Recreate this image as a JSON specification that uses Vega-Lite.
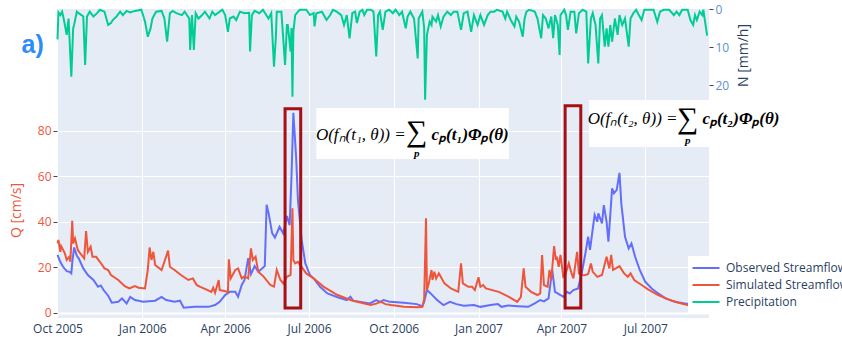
{
  "$schema": "https://vega.github.io/schema/vega-lite/v6.json",
  "width": 652,
  "height": 309,
  "autosize": {"type": "none"},
  "padding": {"left": 57, "top": 9, "right": 133, "bottom": 19},
  "background": "white",
  "config": {
    "view": {"fill": "#e5ecf6", "stroke": null},
    "font": "Open Sans",
    "axis": {"domain": false, "gridColor": "white", "gridWidth": 1, "labelFont": "Open Sans", "labelFontSize": 12, "titleFont": "Open Sans", "titleFontWeight": "normal"}
  },
  "datasets": {
    "flow": [
      {"date":"2005-10-01","series":"Observed Streamflow","Q":25.4},
      {"date":"2005-10-04","series":"Observed Streamflow","Q":22.4},
      {"date":"2005-10-07","series":"Observed Streamflow","Q":20.2},
      {"date":"2005-10-11","series":"Observed Streamflow","Q":18.3},
      {"date":"2005-10-14","series":"Observed Streamflow","Q":18.0},
      {"date":"2005-10-16","series":"Observed Streamflow","Q":17.3},
      {"date":"2005-10-17","series":"Observed Streamflow","Q":22},
      {"date":"2005-10-19","series":"Observed Streamflow","Q":28.7},
      {"date":"2005-10-22","series":"Observed Streamflow","Q":25},
      {"date":"2005-10-24","series":"Observed Streamflow","Q":23.9},
      {"date":"2005-10-29","series":"Observed Streamflow","Q":19.5},
      {"date":"2005-11-03","series":"Observed Streamflow","Q":16.6},
      {"date":"2005-11-09","series":"Observed Streamflow","Q":14.4},
      {"date":"2005-11-14","series":"Observed Streamflow","Q":11.4},
      {"date":"2005-11-17","series":"Observed Streamflow","Q":12},
      {"date":"2005-11-20","series":"Observed Streamflow","Q":10.0},
      {"date":"2005-11-25","series":"Observed Streamflow","Q":7.5},
      {"date":"2005-11-29","series":"Observed Streamflow","Q":4.4},
      {"date":"2005-12-06","series":"Observed Streamflow","Q":4.8},
      {"date":"2005-12-10","series":"Observed Streamflow","Q":6.3},
      {"date":"2005-12-15","series":"Observed Streamflow","Q":4.1},
      {"date":"2005-12-19","series":"Observed Streamflow","Q":7.0},
      {"date":"2005-12-24","series":"Observed Streamflow","Q":5.6},
      {"date":"2006-01-02","series":"Observed Streamflow","Q":4.8},
      {"date":"2006-01-15","series":"Observed Streamflow","Q":5.3},
      {"date":"2006-01-22","series":"Observed Streamflow","Q":7.0},
      {"date":"2006-01-27","series":"Observed Streamflow","Q":5.6},
      {"date":"2006-02-05","series":"Observed Streamflow","Q":4.8},
      {"date":"2006-02-11","series":"Observed Streamflow","Q":5.3},
      {"date":"2006-02-15","series":"Observed Streamflow","Q":2.2},
      {"date":"2006-02-27","series":"Observed Streamflow","Q":2.6},
      {"date":"2006-03-14","series":"Observed Streamflow","Q":2.6},
      {"date":"2006-03-21","series":"Observed Streamflow","Q":3.4},
      {"date":"2006-03-26","series":"Observed Streamflow","Q":4.8},
      {"date":"2006-04-01","series":"Observed Streamflow","Q":7.8},
      {"date":"2006-04-06","series":"Observed Streamflow","Q":9.2},
      {"date":"2006-04-12","series":"Observed Streamflow","Q":9.2},
      {"date":"2006-04-15","series":"Observed Streamflow","Q":7.0},
      {"date":"2006-04-19","series":"Observed Streamflow","Q":12.2},
      {"date":"2006-04-22","series":"Observed Streamflow","Q":14.4},
      {"date":"2006-04-26","series":"Observed Streamflow","Q":24},
      {"date":"2006-04-29","series":"Observed Streamflow","Q":17},
      {"date":"2006-05-03","series":"Observed Streamflow","Q":20.5},
      {"date":"2006-05-07","series":"Observed Streamflow","Q":18},
      {"date":"2006-05-11","series":"Observed Streamflow","Q":19.5},
      {"date":"2006-05-14","series":"Observed Streamflow","Q":20.5},
      {"date":"2006-05-16","series":"Observed Streamflow","Q":47.5},
      {"date":"2006-05-18","series":"Observed Streamflow","Q":44},
      {"date":"2006-05-22","series":"Observed Streamflow","Q":35},
      {"date":"2006-05-25","series":"Observed Streamflow","Q":33},
      {"date":"2006-05-30","series":"Observed Streamflow","Q":37.8},
      {"date":"2006-06-03","series":"Observed Streamflow","Q":34.9},
      {"date":"2006-06-07","series":"Observed Streamflow","Q":42.5},
      {"date":"2006-06-10","series":"Observed Streamflow","Q":38.5},
      {"date":"2006-06-12","series":"Observed Streamflow","Q":60},
      {"date":"2006-06-14","series":"Observed Streamflow","Q":87.9},
      {"date":"2006-06-17","series":"Observed Streamflow","Q":68.6},
      {"date":"2006-06-19","series":"Observed Streamflow","Q":49.5},
      {"date":"2006-06-23","series":"Observed Streamflow","Q":32},
      {"date":"2006-06-27","series":"Observed Streamflow","Q":21.7},
      {"date":"2006-07-02","series":"Observed Streamflow","Q":16.6},
      {"date":"2006-07-06","series":"Observed Streamflow","Q":15.1},
      {"date":"2006-07-13","series":"Observed Streamflow","Q":11.4},
      {"date":"2006-07-21","series":"Observed Streamflow","Q":8.5},
      {"date":"2006-08-01","series":"Observed Streamflow","Q":6.8},
      {"date":"2006-08-11","series":"Observed Streamflow","Q":5.6},
      {"date":"2006-08-15","series":"Observed Streamflow","Q":7.0},
      {"date":"2006-08-18","series":"Observed Streamflow","Q":5.3},
      {"date":"2006-09-05","series":"Observed Streamflow","Q":4.1},
      {"date":"2006-09-12","series":"Observed Streamflow","Q":5.6},
      {"date":"2006-09-16","series":"Observed Streamflow","Q":4.8},
      {"date":"2006-09-20","series":"Observed Streamflow","Q":5.6},
      {"date":"2006-09-27","series":"Observed Streamflow","Q":4.8},
      {"date":"2006-10-12","series":"Observed Streamflow","Q":4.4},
      {"date":"2006-10-26","series":"Observed Streamflow","Q":3.8},
      {"date":"2006-11-01","series":"Observed Streamflow","Q":2.9},
      {"date":"2006-11-03","series":"Observed Streamflow","Q":4.8},
      {"date":"2006-11-06","series":"Observed Streamflow","Q":10},
      {"date":"2006-11-10","series":"Observed Streamflow","Q":8.5},
      {"date":"2006-11-17","series":"Observed Streamflow","Q":5.6},
      {"date":"2006-11-24","series":"Observed Streamflow","Q":3.4},
      {"date":"2006-12-01","series":"Observed Streamflow","Q":4.8},
      {"date":"2006-12-08","series":"Observed Streamflow","Q":3.8},
      {"date":"2006-12-16","series":"Observed Streamflow","Q":3.1},
      {"date":"2006-12-27","series":"Observed Streamflow","Q":3.4},
      {"date":"2007-01-03","series":"Observed Streamflow","Q":2.6},
      {"date":"2007-01-14","series":"Observed Streamflow","Q":3.4},
      {"date":"2007-01-22","series":"Observed Streamflow","Q":3.8},
      {"date":"2007-01-26","series":"Observed Streamflow","Q":2.6},
      {"date":"2007-02-02","series":"Observed Streamflow","Q":3.2},
      {"date":"2007-02-13","series":"Observed Streamflow","Q":2.9},
      {"date":"2007-02-24","series":"Observed Streamflow","Q":2.6},
      {"date":"2007-03-03","series":"Observed Streamflow","Q":4.1},
      {"date":"2007-03-09","series":"Observed Streamflow","Q":5.6},
      {"date":"2007-03-13","series":"Observed Streamflow","Q":5.0},
      {"date":"2007-03-18","series":"Observed Streamflow","Q":6.3},
      {"date":"2007-03-22","series":"Observed Streamflow","Q":18.8},
      {"date":"2007-03-25","series":"Observed Streamflow","Q":9.2},
      {"date":"2007-03-31","series":"Observed Streamflow","Q":7.8},
      {"date":"2007-04-03","series":"Observed Streamflow","Q":7.0},
      {"date":"2007-04-07","series":"Observed Streamflow","Q":9.2},
      {"date":"2007-04-10","series":"Observed Streamflow","Q":8.5},
      {"date":"2007-04-14","series":"Observed Streamflow","Q":10},
      {"date":"2007-04-19","series":"Observed Streamflow","Q":10.7},
      {"date":"2007-04-23","series":"Observed Streamflow","Q":17.3},
      {"date":"2007-04-27","series":"Observed Streamflow","Q":26.1},
      {"date":"2007-04-30","series":"Observed Streamflow","Q":33.4},
      {"date":"2007-05-02","series":"Observed Streamflow","Q":27.6},
      {"date":"2007-05-07","series":"Observed Streamflow","Q":43},
      {"date":"2007-05-10","series":"Observed Streamflow","Q":40},
      {"date":"2007-05-11","series":"Observed Streamflow","Q":43.7},
      {"date":"2007-05-15","series":"Observed Streamflow","Q":39.3},
      {"date":"2007-05-17","series":"Observed Streamflow","Q":47.3},
      {"date":"2007-05-20","series":"Observed Streamflow","Q":40},
      {"date":"2007-05-22","series":"Observed Streamflow","Q":31.2},
      {"date":"2007-05-26","series":"Observed Streamflow","Q":54.7},
      {"date":"2007-05-28","series":"Observed Streamflow","Q":52.5},
      {"date":"2007-05-31","series":"Observed Streamflow","Q":54},
      {"date":"2007-06-03","series":"Observed Streamflow","Q":61.5},
      {"date":"2007-06-05","series":"Observed Streamflow","Q":48},
      {"date":"2007-06-09","series":"Observed Streamflow","Q":33.4},
      {"date":"2007-06-13","series":"Observed Streamflow","Q":28.3},
      {"date":"2007-06-16","series":"Observed Streamflow","Q":30.5},
      {"date":"2007-06-20","series":"Observed Streamflow","Q":24.6},
      {"date":"2007-06-25","series":"Observed Streamflow","Q":18.8},
      {"date":"2007-07-01","series":"Observed Streamflow","Q":13.6},
      {"date":"2007-07-08","series":"Observed Streamflow","Q":10.7},
      {"date":"2007-07-15","series":"Observed Streamflow","Q":8.5},
      {"date":"2007-07-23","series":"Observed Streamflow","Q":6.3},
      {"date":"2007-08-02","series":"Observed Streamflow","Q":4.8},
      {"date":"2007-08-13","series":"Observed Streamflow","Q":4.1},
      {"date":"2007-08-25","series":"Observed Streamflow","Q":3.5},
      {"date":"2007-09-07","series":"Observed Streamflow","Q":3.0},
      {"date":"2005-10-01","series":"Simulated Streamflow","Q":30.5},
      {"date":"2005-10-02","series":"Simulated Streamflow","Q":32},
      {"date":"2005-10-04","series":"Simulated Streamflow","Q":26.8},
      {"date":"2005-10-05","series":"Simulated Streamflow","Q":29.3},
      {"date":"2005-10-09","series":"Simulated Streamflow","Q":26.1},
      {"date":"2005-10-11","series":"Simulated Streamflow","Q":23.2},
      {"date":"2005-10-14","series":"Simulated Streamflow","Q":24.6},
      {"date":"2005-10-15","series":"Simulated Streamflow","Q":22.4},
      {"date":"2005-10-17","series":"Simulated Streamflow","Q":40.4},
      {"date":"2005-10-18","series":"Simulated Streamflow","Q":30.5},
      {"date":"2005-10-20","series":"Simulated Streamflow","Q":32.7},
      {"date":"2005-10-23","series":"Simulated Streamflow","Q":27.6},
      {"date":"2005-10-27","series":"Simulated Streamflow","Q":25.4},
      {"date":"2005-10-30","series":"Simulated Streamflow","Q":23.9},
      {"date":"2005-11-01","series":"Simulated Streamflow","Q":35.9},
      {"date":"2005-11-03","series":"Simulated Streamflow","Q":26.8},
      {"date":"2005-11-06","series":"Simulated Streamflow","Q":29},
      {"date":"2005-11-08","series":"Simulated Streamflow","Q":24.6},
      {"date":"2005-11-12","series":"Simulated Streamflow","Q":24.6},
      {"date":"2005-11-16","series":"Simulated Streamflow","Q":22.4},
      {"date":"2005-11-21","series":"Simulated Streamflow","Q":19.5},
      {"date":"2005-11-25","series":"Simulated Streamflow","Q":18.8},
      {"date":"2005-11-28","series":"Simulated Streamflow","Q":16.6},
      {"date":"2005-12-06","series":"Simulated Streamflow","Q":14.4},
      {"date":"2005-12-13","series":"Simulated Streamflow","Q":11.7},
      {"date":"2005-12-18","series":"Simulated Streamflow","Q":10.7},
      {"date":"2005-12-24","series":"Simulated Streamflow","Q":11.7},
      {"date":"2005-12-28","series":"Simulated Streamflow","Q":11.0},
      {"date":"2006-01-04","series":"Simulated Streamflow","Q":10.7},
      {"date":"2006-01-07","series":"Simulated Streamflow","Q":18.8},
      {"date":"2006-01-09","series":"Simulated Streamflow","Q":28.7},
      {"date":"2006-01-11","series":"Simulated Streamflow","Q":23.2},
      {"date":"2006-01-13","series":"Simulated Streamflow","Q":26.8},
      {"date":"2006-01-15","series":"Simulated Streamflow","Q":21},
      {"date":"2006-01-22","series":"Simulated Streamflow","Q":18.8},
      {"date":"2006-01-29","series":"Simulated Streamflow","Q":27.3},
      {"date":"2006-01-31","series":"Simulated Streamflow","Q":20.2},
      {"date":"2006-02-05","series":"Simulated Streamflow","Q":18.8},
      {"date":"2006-02-12","series":"Simulated Streamflow","Q":16.6},
      {"date":"2006-02-20","series":"Simulated Streamflow","Q":14.4},
      {"date":"2006-02-25","series":"Simulated Streamflow","Q":15.1},
      {"date":"2006-03-01","series":"Simulated Streamflow","Q":12.2},
      {"date":"2006-03-05","series":"Simulated Streamflow","Q":11.4},
      {"date":"2006-03-10","series":"Simulated Streamflow","Q":10.5},
      {"date":"2006-03-17","series":"Simulated Streamflow","Q":9.2},
      {"date":"2006-03-19","series":"Simulated Streamflow","Q":11},
      {"date":"2006-03-21","series":"Simulated Streamflow","Q":8.8},
      {"date":"2006-03-25","series":"Simulated Streamflow","Q":14.4},
      {"date":"2006-03-26","series":"Simulated Streamflow","Q":10},
      {"date":"2006-04-01","series":"Simulated Streamflow","Q":9.5},
      {"date":"2006-04-04","series":"Simulated Streamflow","Q":9.0},
      {"date":"2006-04-05","series":"Simulated Streamflow","Q":23.5},
      {"date":"2006-04-07","series":"Simulated Streamflow","Q":15.1},
      {"date":"2006-04-12","series":"Simulated Streamflow","Q":18.8},
      {"date":"2006-04-15","series":"Simulated Streamflow","Q":19.5},
      {"date":"2006-04-19","series":"Simulated Streamflow","Q":15.1},
      {"date":"2006-04-22","series":"Simulated Streamflow","Q":16},
      {"date":"2006-04-26","series":"Simulated Streamflow","Q":15.1},
      {"date":"2006-04-29","series":"Simulated Streamflow","Q":28.3},
      {"date":"2006-05-01","series":"Simulated Streamflow","Q":23.2},
      {"date":"2006-05-04","series":"Simulated Streamflow","Q":24.6},
      {"date":"2006-05-07","series":"Simulated Streamflow","Q":18},
      {"date":"2006-05-13","series":"Simulated Streamflow","Q":15.8},
      {"date":"2006-05-20","series":"Simulated Streamflow","Q":12.2},
      {"date":"2006-05-24","series":"Simulated Streamflow","Q":11.5},
      {"date":"2006-05-27","series":"Simulated Streamflow","Q":18.8},
      {"date":"2006-05-31","series":"Simulated Streamflow","Q":14.4},
      {"date":"2006-06-03","series":"Simulated Streamflow","Q":12.9},
      {"date":"2006-06-07","series":"Simulated Streamflow","Q":15.8},
      {"date":"2006-06-11","series":"Simulated Streamflow","Q":16.6},
      {"date":"2006-06-13","series":"Simulated Streamflow","Q":45.9},
      {"date":"2006-06-14","series":"Simulated Streamflow","Q":23.2},
      {"date":"2006-06-16","series":"Simulated Streamflow","Q":21.7},
      {"date":"2006-06-19","series":"Simulated Streamflow","Q":22.4},
      {"date":"2006-06-23","series":"Simulated Streamflow","Q":20.2},
      {"date":"2006-06-28","series":"Simulated Streamflow","Q":17.3},
      {"date":"2006-07-06","series":"Simulated Streamflow","Q":15.1},
      {"date":"2006-07-17","series":"Simulated Streamflow","Q":11.4},
      {"date":"2006-08-01","series":"Simulated Streamflow","Q":7.8},
      {"date":"2006-08-15","series":"Simulated Streamflow","Q":5.6},
      {"date":"2006-08-30","series":"Simulated Streamflow","Q":4.1},
      {"date":"2006-09-06","series":"Simulated Streamflow","Q":3.4},
      {"date":"2006-09-12","series":"Simulated Streamflow","Q":4.0},
      {"date":"2006-09-17","series":"Simulated Streamflow","Q":4.8},
      {"date":"2006-09-22","series":"Simulated Streamflow","Q":3.8},
      {"date":"2006-09-28","series":"Simulated Streamflow","Q":3.4},
      {"date":"2006-10-12","series":"Simulated Streamflow","Q":2.6},
      {"date":"2006-10-27","series":"Simulated Streamflow","Q":2.4},
      {"date":"2006-11-01","series":"Simulated Streamflow","Q":2.6},
      {"date":"2006-11-03","series":"Simulated Streamflow","Q":6},
      {"date":"2006-11-05","series":"Simulated Streamflow","Q":41.5},
      {"date":"2006-11-06","series":"Simulated Streamflow","Q":10},
      {"date":"2006-11-08","series":"Simulated Streamflow","Q":12.9},
      {"date":"2006-11-11","series":"Simulated Streamflow","Q":18.8},
      {"date":"2006-11-12","series":"Simulated Streamflow","Q":14.4},
      {"date":"2006-11-14","series":"Simulated Streamflow","Q":18},
      {"date":"2006-11-16","series":"Simulated Streamflow","Q":15},
      {"date":"2006-11-19","series":"Simulated Streamflow","Q":17.3},
      {"date":"2006-11-25","series":"Simulated Streamflow","Q":12.9},
      {"date":"2006-12-02","series":"Simulated Streamflow","Q":10.7},
      {"date":"2006-12-10","series":"Simulated Streamflow","Q":9.2},
      {"date":"2006-12-13","series":"Simulated Streamflow","Q":21.7},
      {"date":"2006-12-15","series":"Simulated Streamflow","Q":12.9},
      {"date":"2006-12-21","series":"Simulated Streamflow","Q":11.4},
      {"date":"2006-12-25","series":"Simulated Streamflow","Q":11.4},
      {"date":"2006-12-28","series":"Simulated Streamflow","Q":10},
      {"date":"2007-01-01","series":"Simulated Streamflow","Q":15.6},
      {"date":"2007-01-03","series":"Simulated Streamflow","Q":11.4},
      {"date":"2007-01-06","series":"Simulated Streamflow","Q":12.2},
      {"date":"2007-01-09","series":"Simulated Streamflow","Q":10.7},
      {"date":"2007-01-23","series":"Simulated Streamflow","Q":9.2},
      {"date":"2007-02-03","series":"Simulated Streamflow","Q":7},
      {"date":"2007-02-12","series":"Simulated Streamflow","Q":4.8},
      {"date":"2007-02-16","series":"Simulated Streamflow","Q":7},
      {"date":"2007-02-19","series":"Simulated Streamflow","Q":19.5},
      {"date":"2007-02-21","series":"Simulated Streamflow","Q":11.4},
      {"date":"2007-02-27","series":"Simulated Streamflow","Q":9.2},
      {"date":"2007-03-06","series":"Simulated Streamflow","Q":7.8},
      {"date":"2007-03-09","series":"Simulated Streamflow","Q":8.5},
      {"date":"2007-03-11","series":"Simulated Streamflow","Q":25.4},
      {"date":"2007-03-13","series":"Simulated Streamflow","Q":12.2},
      {"date":"2007-03-17","series":"Simulated Streamflow","Q":11.4},
      {"date":"2007-03-19","series":"Simulated Streamflow","Q":18.8},
      {"date":"2007-03-21","series":"Simulated Streamflow","Q":14.4},
      {"date":"2007-03-24","series":"Simulated Streamflow","Q":29.3},
      {"date":"2007-03-26","series":"Simulated Streamflow","Q":23.2},
      {"date":"2007-03-27","series":"Simulated Streamflow","Q":24.6},
      {"date":"2007-03-29","series":"Simulated Streamflow","Q":20.2},
      {"date":"2007-03-31","series":"Simulated Streamflow","Q":25.4},
      {"date":"2007-04-03","series":"Simulated Streamflow","Q":15.8},
      {"date":"2007-04-05","series":"Simulated Streamflow","Q":16.5},
      {"date":"2007-04-09","series":"Simulated Streamflow","Q":21.7},
      {"date":"2007-04-12","series":"Simulated Streamflow","Q":17.3},
      {"date":"2007-04-14","series":"Simulated Streamflow","Q":15.1},
      {"date":"2007-04-18","series":"Simulated Streamflow","Q":26.8},
      {"date":"2007-04-20","series":"Simulated Streamflow","Q":17.3},
      {"date":"2007-04-23","series":"Simulated Streamflow","Q":16.5},
      {"date":"2007-04-27","series":"Simulated Streamflow","Q":16.6},
      {"date":"2007-04-30","series":"Simulated Streamflow","Q":17},
      {"date":"2007-05-03","series":"Simulated Streamflow","Q":21.7},
      {"date":"2007-05-05","series":"Simulated Streamflow","Q":18},
      {"date":"2007-05-10","series":"Simulated Streamflow","Q":15.8},
      {"date":"2007-05-15","series":"Simulated Streamflow","Q":16.6},
      {"date":"2007-05-20","series":"Simulated Streamflow","Q":24.6},
      {"date":"2007-05-23","series":"Simulated Streamflow","Q":19.5},
      {"date":"2007-05-25","series":"Simulated Streamflow","Q":25.4},
      {"date":"2007-05-27","series":"Simulated Streamflow","Q":18.8},
      {"date":"2007-05-30","series":"Simulated Streamflow","Q":19.5},
      {"date":"2007-06-03","series":"Simulated Streamflow","Q":20.5},
      {"date":"2007-06-08","series":"Simulated Streamflow","Q":17.3},
      {"date":"2007-06-12","series":"Simulated Streamflow","Q":15.8},
      {"date":"2007-06-15","series":"Simulated Streamflow","Q":17.3},
      {"date":"2007-06-19","series":"Simulated Streamflow","Q":14.4},
      {"date":"2007-06-27","series":"Simulated Streamflow","Q":12.2},
      {"date":"2007-07-04","series":"Simulated Streamflow","Q":10.3},
      {"date":"2007-07-15","series":"Simulated Streamflow","Q":7.8},
      {"date":"2007-07-26","series":"Simulated Streamflow","Q":5.9},
      {"date":"2007-08-06","series":"Simulated Streamflow","Q":4.4},
      {"date":"2007-08-17","series":"Simulated Streamflow","Q":3.3},
      {"date":"2007-08-28","series":"Simulated Streamflow","Q":2.8},
      {"date":"2007-09-07","series":"Simulated Streamflow","Q":2.5}
    ],
    "precip": [
      {"date":"2005-10-01","P":8.0},{"date":"2005-10-02","P":0.9},{"date":"2005-10-04","P":1.6},{"date":"2005-10-06","P":0.7},
      {"date":"2005-10-08","P":2.9},{"date":"2005-10-11","P":6.8},{"date":"2005-10-13","P":2.5},{"date":"2005-10-16","P":17.8},
      {"date":"2005-10-18","P":5.1},{"date":"2005-10-19","P":4.2},{"date":"2005-10-22","P":0.7},{"date":"2005-10-24","P":1.1},
      {"date":"2005-10-27","P":1.6},{"date":"2005-10-29","P":2.0},{"date":"2005-10-31","P":14.7},{"date":"2005-11-02","P":2.0},
      {"date":"2005-11-05","P":0.7},{"date":"2005-11-09","P":2.0},{"date":"2005-11-13","P":1.1},{"date":"2005-11-16","P":0.2},
      {"date":"2005-11-21","P":0.7},{"date":"2005-11-25","P":4.2},{"date":"2005-11-28","P":3.7},{"date":"2005-11-30","P":2.9},
      {"date":"2005-12-04","P":2.0},{"date":"2005-12-08","P":0.7},{"date":"2005-12-11","P":1.6},{"date":"2005-12-15","P":0.5},
      {"date":"2005-12-19","P":0.9},{"date":"2005-12-24","P":0.5},{"date":"2005-12-31","P":0.2},{"date":"2006-01-04","P":3.3},
      {"date":"2006-01-07","P":7.3},{"date":"2006-01-10","P":5.1},{"date":"2006-01-12","P":2.5},{"date":"2006-01-16","P":0.7},
      {"date":"2006-01-22","P":0.5},{"date":"2006-01-25","P":2.5},{"date":"2006-01-28","P":8.6},{"date":"2006-01-31","P":1.1},
      {"date":"2006-02-03","P":0.5},{"date":"2006-02-07","P":1.1},{"date":"2006-02-13","P":1.6},{"date":"2006-02-16","P":0.7},
      {"date":"2006-02-21","P":2.5},{"date":"2006-02-22","P":10.8},{"date":"2006-02-24","P":1.6},{"date":"2006-02-26","P":10.8},
      {"date":"2006-02-28","P":1.1},{"date":"2006-03-03","P":2.5},{"date":"2006-03-07","P":1.6},{"date":"2006-03-10","P":0.7},
      {"date":"2006-03-15","P":2.5},{"date":"2006-03-18","P":0.7},{"date":"2006-03-21","P":1.6},{"date":"2006-03-26","P":0.7},
      {"date":"2006-03-29","P":0.2},{"date":"2006-04-01","P":1.6},{"date":"2006-04-04","P":6.0},{"date":"2006-04-06","P":2.5},
      {"date":"2006-04-10","P":2.0},{"date":"2006-04-13","P":2.9},{"date":"2006-04-17","P":0.7},{"date":"2006-04-22","P":1.1},
      {"date":"2006-04-27","P":1.0},{"date":"2006-04-28","P":11.2},{"date":"2006-04-30","P":1.6},{"date":"2006-05-03","P":0.5},
      {"date":"2006-05-08","P":1.1},{"date":"2006-05-12","P":0.2},{"date":"2006-05-18","P":2.5},{"date":"2006-05-21","P":1.1},
      {"date":"2006-05-24","P":15.2},{"date":"2006-05-26","P":7.5},{"date":"2006-05-27","P":0.7},{"date":"2006-06-01","P":0.7},
      {"date":"2006-06-05","P":14.7},{"date":"2006-06-07","P":4.2},{"date":"2006-06-08","P":4.2},{"date":"2006-06-11","P":11.2},
      {"date":"2006-06-12","P":5.0},{"date":"2006-06-13","P":23.1},{"date":"2006-06-14","P":6.0},{"date":"2006-06-16","P":1.6},
      {"date":"2006-06-19","P":0.7},{"date":"2006-06-21","P":0.2},{"date":"2006-06-28","P":0.2},{"date":"2006-07-02","P":1.6},
      {"date":"2006-07-06","P":1.1},{"date":"2006-07-07","P":4.6},{"date":"2006-07-09","P":1.1},{"date":"2006-07-15","P":0.7},
      {"date":"2006-07-20","P":2.9},{"date":"2006-07-24","P":1.6},{"date":"2006-07-27","P":0.2},{"date":"2006-07-31","P":0.7},
      {"date":"2006-08-05","P":1.6},{"date":"2006-08-08","P":4.2},{"date":"2006-08-11","P":1.6},{"date":"2006-08-14","P":7.7},
      {"date":"2006-08-17","P":1.1},{"date":"2006-08-20","P":0.7},{"date":"2006-08-22","P":3.7},{"date":"2006-08-25","P":0.7},
      {"date":"2006-08-28","P":0.2},{"date":"2006-08-30","P":1.6},{"date":"2006-09-02","P":0.2},{"date":"2006-09-06","P":0.2},
      {"date":"2006-09-09","P":0.7},{"date":"2006-09-12","P":12.5},{"date":"2006-09-14","P":1.6},{"date":"2006-09-16","P":0.7},
      {"date":"2006-09-19","P":5.5},{"date":"2006-09-22","P":0.7},{"date":"2006-09-26","P":0.2},{"date":"2006-09-30","P":1.1},
      {"date":"2006-10-03","P":0.2},{"date":"2006-10-07","P":1.6},{"date":"2006-10-10","P":0.7},{"date":"2006-10-14","P":5.1},
      {"date":"2006-10-16","P":2.0},{"date":"2006-10-19","P":0.7},{"date":"2006-10-23","P":2.5},{"date":"2006-10-27","P":13.0},
      {"date":"2006-10-28","P":2.5},{"date":"2006-11-01","P":0.7},{"date":"2006-11-03","P":5.0},{"date":"2006-11-04","P":23.9},
      {"date":"2006-11-06","P":6.8},{"date":"2006-11-09","P":3.3},{"date":"2006-11-11","P":4.2},{"date":"2006-11-12","P":2.0},
      {"date":"2006-11-16","P":3.3},{"date":"2006-11-18","P":1.6},{"date":"2006-11-21","P":4.6},{"date":"2006-11-24","P":2.0},
      {"date":"2006-11-28","P":0.7},{"date":"2006-12-02","P":1.6},{"date":"2006-12-05","P":0.7},{"date":"2006-12-09","P":0.7},
      {"date":"2006-12-13","P":5.5},{"date":"2006-12-16","P":1.1},{"date":"2006-12-20","P":0.7},{"date":"2006-12-24","P":6.0},
      {"date":"2006-12-27","P":1.6},{"date":"2006-12-31","P":4.2},{"date":"2007-01-03","P":1.6},{"date":"2007-01-07","P":4.2},
      {"date":"2007-01-11","P":1.6},{"date":"2007-01-14","P":0.7},{"date":"2007-01-18","P":0.7},{"date":"2007-01-21","P":0.2},
      {"date":"2007-01-27","P":0.7},{"date":"2007-01-30","P":2.5},{"date":"2007-02-01","P":0.7},{"date":"2007-02-05","P":2.9},
      {"date":"2007-02-09","P":4.6},{"date":"2007-02-11","P":2.0},{"date":"2007-02-14","P":3.3},{"date":"2007-02-18","P":7.3},
      {"date":"2007-02-20","P":2.5},{"date":"2007-02-22","P":0.7},{"date":"2007-02-25","P":0.2},{"date":"2007-03-03","P":0.7},
      {"date":"2007-03-06","P":2.5},{"date":"2007-03-10","P":7.7},{"date":"2007-03-12","P":1.6},{"date":"2007-03-15","P":2.5},
      {"date":"2007-03-18","P":5.1},{"date":"2007-03-21","P":2.0},{"date":"2007-03-23","P":7.7},{"date":"2007-03-25","P":1.6},
      {"date":"2007-03-28","P":4.2},{"date":"2007-03-30","P":12.1},{"date":"2007-03-31","P":1.6},{"date":"2007-04-04","P":0.2},
      {"date":"2007-04-06","P":1.6},{"date":"2007-04-08","P":5.5},{"date":"2007-04-11","P":0.7},{"date":"2007-04-15","P":0.7},
      {"date":"2007-04-17","P":6.4},{"date":"2007-04-20","P":1.1},{"date":"2007-04-24","P":0.2},{"date":"2007-04-28","P":0.7},
      {"date":"2007-04-30","P":14.3},{"date":"2007-05-03","P":2.5},{"date":"2007-05-05","P":1.1},{"date":"2007-05-08","P":4.2},
      {"date":"2007-05-11","P":14.3},{"date":"2007-05-13","P":2.5},{"date":"2007-05-15","P":1.6},{"date":"2007-05-18","P":9.9},
      {"date":"2007-05-20","P":5.1},{"date":"2007-05-22","P":9.9},{"date":"2007-05-24","P":4.2},{"date":"2007-05-26","P":8.6},
      {"date":"2007-05-29","P":2.5},{"date":"2007-06-01","P":6.8},{"date":"2007-06-03","P":1.6},{"date":"2007-06-06","P":4.2},
      {"date":"2007-06-09","P":2.5},{"date":"2007-06-13","P":9.9},{"date":"2007-06-15","P":2.5},{"date":"2007-06-18","P":1.1},
      {"date":"2007-06-21","P":0.2},{"date":"2007-06-24","P":1.6},{"date":"2007-06-27","P":2.9},{"date":"2007-06-30","P":0.2},
      {"date":"2007-07-05","P":0.2},{"date":"2007-07-10","P":0.2},{"date":"2007-07-14","P":3.4},{"date":"2007-07-17","P":0.7},
      {"date":"2007-07-21","P":0.2},{"date":"2007-07-27","P":0.2},{"date":"2007-08-01","P":1.6},{"date":"2007-08-04","P":0.7},
      {"date":"2007-08-07","P":1.6},{"date":"2007-08-10","P":0.2},{"date":"2007-08-16","P":0.2},{"date":"2007-08-19","P":2.9},
      {"date":"2007-08-22","P":4.2},{"date":"2007-08-24","P":1.6},{"date":"2007-08-26","P":2.9},{"date":"2007-08-29","P":0.7},
      {"date":"2007-09-01","P":1.6},{"date":"2007-09-02","P":0.2},{"date":"2007-09-06","P":6.8},{"date":"2007-09-07","P":6.8}
    ]
  },
  "layer": [
    {
      "data": {"name": "flow"},
      "mark": {"type": "line", "strokeWidth": 2},
      "encoding": {
        "x": {
          "field": "date", "type": "temporal",
          "scale": {"type": "utc", "domain": [{"year": 2005, "month": 9, "date": 30, "hours": 11, "utc": true}, {"year": 2007, "month": 9, "date": 8, "hours": 4, "utc": true}]},
          "axis": {
            "title": null, "format": "%b %Y", "ticks": false, "labelPadding": 5, "labelColor": "#2a3f5f", "grid": true,
            "labelFlush": false, "labelOverlap": false, "labelBound": false,
            "values": [
              {"year": 2005, "month": 10, "date": 1, "utc": true},
              {"year": 2006, "month": 1, "date": 1, "utc": true},
              {"year": 2006, "month": 4, "date": 1, "utc": true},
              {"year": 2006, "month": 7, "date": 1, "utc": true},
              {"year": 2006, "month": 10, "date": 1, "utc": true},
              {"year": 2007, "month": 1, "date": 1, "utc": true},
              {"year": 2007, "month": 4, "date": 1, "utc": true},
              {"year": 2007, "month": 7, "date": 1, "utc": true}
            ]
          }
        },
        "y": {
          "field": "Q", "type": "quantitative",
          "scale": {"domain": [-2.3, 133.5], "nice": false, "zero": false},
          "axis": {
            "orient": "left", "values": [0, 20, 40, 60, 80], "title": "Q [cm/s]",
            "labelColor": "#ef553b", "titleColor": "#ef553b", "titleFontSize": 14,
            "tickColor": "#444444", "tickSize": 4, "labelPadding": 2,
            "titleX": -41, "titleY": 201, "titleAlign": "center", "titleBaseline": "middle",
            "gridWidth": {"condition": {"test": "datum.value === 0", "value": 2}, "value": 1}
          }
        },
        "color": {
          "field": "series", "type": "nominal",
          "scale": {"domain": ["Observed Streamflow", "Simulated Streamflow", "Precipitation"], "range": ["#636efa", "#ef553b", "#00cc96"]},
          "legend": {
            "orient": "none", "legendX": 631, "legendY": 247, "title": null,
            "fillColor": "white", "padding": 6, "rowPadding": 5,
            "symbolType": "M-2.7,0L2.7,0", "symbolSize": 100, "symbolStrokeWidth": 2, "symbolOffset": 6,
            "labelOffset": 14,
            "labelFont": "Open Sans", "labelFontSize": 12, "labelColor": "#2a3f5f", "labelLimit": 300
          }
        }
      }
    },
    {
      "data": {"name": "precip"},
      "mark": {"type": "line", "strokeWidth": 2},
      "encoding": {
        "x": {"field": "date", "type": "temporal"},
        "y": {
          "field": "P", "type": "quantitative",
          "scale": {"domain": [0, 81.3], "reverse": true, "nice": false, "zero": false},
          "axis": {
            "orient": "right", "values": [0, 10, 20], "title": "N [mm/h]",
            "labelColor": "#5b92cc", "titleColor": "#2a3f5f", "titleFontSize": 14,
            "tickColor": "#444444", "tickSize": 4, "labelPadding": 2,
            "titleAngle": 270, "titleX": 34, "titleY": 46, "titleAlign": "center", "titleBaseline": "middle"
          }
        },
        "color": {"datum": "Precipitation"}
      }
    },
    {
      "data": {"values": [
        {"start": "2006-07-09", "end": "2007-02-03", "top": 90, "bottom": 67.6},
        {"start": "2007-05-01", "end": "2007-09-10", "top": 93.5, "bottom": 72.8}
      ]},
      "mark": {"type": "rect", "fill": "white", "stroke": null},
      "encoding": {
        "x": {"field": "start", "type": "temporal"},
        "x2": {"field": "end"},
        "y": {"field": "top", "type": "quantitative", "scale": {"domain": [-2.3, 133.5], "nice": false, "zero": false}, "axis": null},
        "y2": {"field": "bottom"}
      }
    },
    {
      "data": {"values": [
        {"start": "2006-06-05", "end": "2006-06-22", "top": 89.7, "bottom": 2.1},
        {"start": "2007-04-05", "end": "2007-04-22", "top": 91, "bottom": 2.1}
      ]},
      "mark": {"type": "rect", "fill": "transparent", "stroke": "#a80f14", "strokeWidth": 3},
      "encoding": {
        "x": {"field": "start", "type": "temporal"},
        "x2": {"field": "end"},
        "y": {"field": "top", "type": "quantitative", "scale": {"domain": [-2.3, 133.5], "nice": false, "zero": false}, "axis": null},
        "y2": {"field": "bottom"}
      }
    },
    {
      "data": {"values": [
        {"date": "2006-10-14", "q": 78.1, "label": "O(fₙ(t₁, θ)) ="},
        {"date": "2007-08-05", "q": 85, "label": "O(fₙ(t₂, θ)) ="}
      ]},
      "mark": {"type": "text", "align": "right", "baseline": "middle", "font": "Liberation Serif", "fontStyle": "italic", "fontSize": 17, "color": "black"},
      "encoding": {
        "x": {"field": "date", "type": "temporal"},
        "y": {"field": "q", "type": "quantitative", "scale": {"domain": [-2.3, 133.5], "nice": false, "zero": false}, "axis": null},
        "text": {"field": "label"}
      }
    },
    {
      "data": {"values": [
        {"date": "2006-10-26", "q": 79.6, "label": "∑"},
        {"date": "2007-08-16", "q": 85.0, "label": "∑"}
      ]},
      "mark": {"type": "text", "align": "center", "baseline": "middle", "font": "Liberation Serif", "fontSize": 30, "color": "black"},
      "encoding": {
        "x": {"field": "date", "type": "temporal"},
        "y": {"field": "q", "type": "quantitative", "scale": {"domain": [-2.3, 133.5], "nice": false, "zero": false}, "axis": null},
        "text": {"field": "label"}
      }
    },
    {
      "data": {"values": [
        {"date": "2006-10-26", "q": 69.6, "label": "p"},
        {"date": "2007-08-16", "q": 75.6, "label": "p"}
      ]},
      "mark": {"type": "text", "align": "center", "baseline": "middle", "font": "Liberation Serif", "fontStyle": "italic", "fontWeight": "bold", "fontSize": 11, "color": "black"},
      "encoding": {
        "x": {"field": "date", "type": "temporal"},
        "y": {"field": "q", "type": "quantitative", "scale": {"domain": [-2.3, 133.5], "nice": false, "zero": false}, "axis": null},
        "text": {"field": "label"}
      }
    },
    {
      "data": {"values": [
        {"date": "2006-11-11", "q": 78.1, "label": "cₚ(t₁)Φₚ(θ)"},
        {"date": "2007-09-01", "q": 85, "label": "cₚ(t₂)Φₚ(θ)"}
      ]},
      "mark": {"type": "text", "align": "left", "baseline": "middle", "font": "Liberation Serif", "fontStyle": "italic", "fontWeight": "bold", "fontSize": 17, "color": "black"},
      "encoding": {
        "x": {"field": "date", "type": "temporal"},
        "y": {"field": "q", "type": "quantitative", "scale": {"domain": [-2.3, 133.5], "nice": false, "zero": false}, "axis": null},
        "text": {"field": "label"}
      }
    },
    {
      "data": {"values": [
        {"date": "2005-09-04", "q": 117.7, "label": "a)"}
      ]},
      "mark": {"type": "text", "align": "center", "baseline": "middle", "font": "Liberation Sans", "fontWeight": "bold", "fontSize": 25, "color": "#2e8cf8"},
      "encoding": {
        "x": {"field": "date", "type": "temporal"},
        "y": {"field": "q", "type": "quantitative", "scale": {"domain": [-2.3, 133.5], "nice": false, "zero": false}, "axis": null},
        "text": {"field": "label"}
      }
    }
  ],
  "resolve": {"scale": {"y": "independent"}}
}
